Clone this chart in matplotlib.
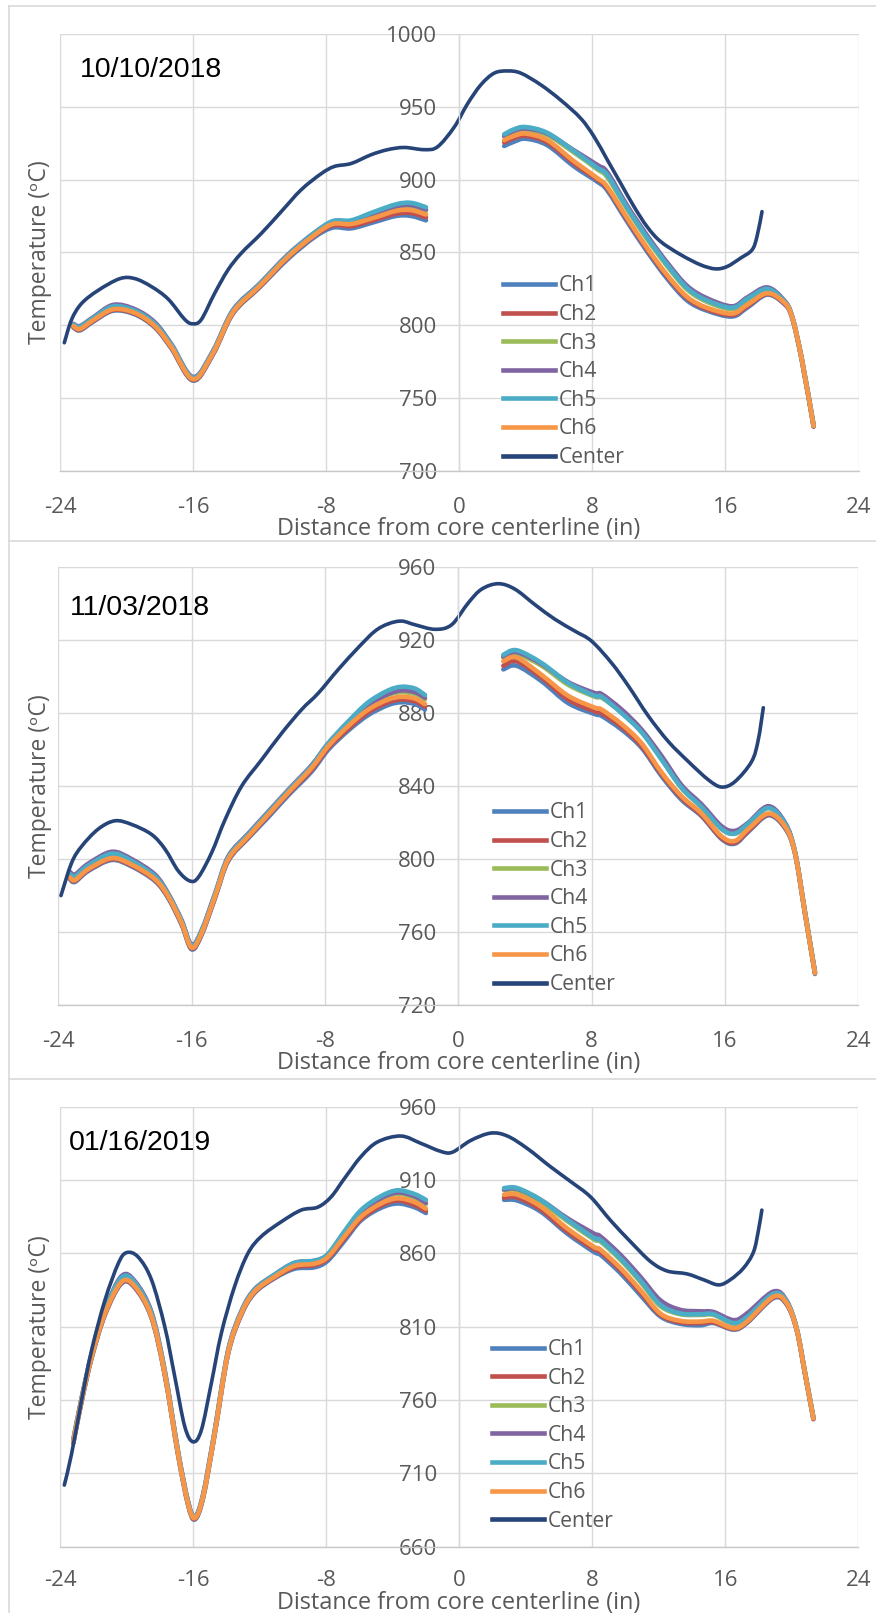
"""Core temperature profiles across three survey dates."""

import matplotlib
matplotlib.use("Agg")

import numpy as np
import matplotlib.pyplot as plt
from matplotlib.path import Path
from matplotlib.patches import PathPatch
from matplotlib.lines import Line2D

plt.rcParams["axes.unicode_minus"] = False

W, H = 876, 1613

CHANNELS = ["Ch1", "Ch2", "Ch3", "Ch4", "Ch5", "Ch6"]
COLORS = {
    "Ch1": "#4F81BD",
    "Ch2": "#C0504D",
    "Ch3": "#9BBB59",
    "Ch4": "#8064A2",
    "Ch5": "#4BACC6",
    "Ch6": "#F79646",
    "Center": "#264478",
}
X_TICKS = [-24, -16, -8, 0, 8, 16, 24]

# ---- 10/10/2018 ----
P1_X_LEFT = [-23.2, -22.8, -22.0, -20.8, -19.5, -18.3, -17.3, -16.0, -14.8, -13.6,
             -12.0, -10.3, -8.7, -7.6, -6.5, -5.2, -3.8, -2.9, -2.0]
P1_LEFT = {
    "Ch1": [798.5, 796.5, 802.5, 810.0, 807.5, 798.5, 784.0, 762.0, 780.0, 808.0,
            826.0, 845.5, 860.5, 867.0, 866.5, 870.5, 875.0, 875.0, 872.0],
    "Ch2": [799.0, 797.0, 803.0, 810.5, 808.0, 799.0, 784.5, 762.5, 780.5, 808.5,
            826.5, 846.5, 861.5, 868.5, 868.0, 872.0, 876.5, 877.0, 874.0],
    "Ch3": [800.0, 798.5, 804.5, 812.0, 809.5, 800.5, 786.0, 763.5, 781.5, 809.5,
            827.5, 847.5, 863.0, 870.5, 871.0, 875.5, 881.0, 881.5, 878.5],
    "Ch4": [801.0, 799.5, 805.5, 814.0, 811.0, 802.0, 787.0, 764.5, 782.5, 810.5,
            828.5, 848.5, 863.5, 871.0, 871.5, 876.0, 881.5, 882.5, 879.5],
    "Ch5": [800.5, 799.0, 805.0, 813.0, 810.0, 801.0, 786.5, 764.0, 782.0, 810.0,
            828.0, 848.0, 863.5, 871.5, 872.0, 877.5, 883.0, 884.0, 881.0],
    "Ch6": [799.5, 797.5, 803.5, 811.0, 808.5, 799.5, 785.0, 763.0, 781.0, 809.0,
            827.0, 847.0, 862.0, 869.5, 869.5, 873.5, 878.5, 879.0, 876.0],
}
P1_X_RIGHT = [2.7, 3.3, 4.0, 5.3, 6.9, 8.3, 8.9, 10.1, 11.3, 12.5,
              13.7, 14.9, 16.4, 17.3, 18.5, 19.5, 20.0, 20.6, 21.3]
P1_RIGHT = {
    "Ch1": [923.0, 926.0, 928.0, 923.5, 909.0, 898.5, 892.5, 871.0, 850.5, 832.0,
            817.0, 810.0, 806.0, 812.0, 821.0, 815.0, 805.5, 775.5, 730.5],
    "Ch2": [925.5, 928.5, 930.0, 925.5, 911.0, 900.0, 894.0, 872.5, 852.0, 833.5,
            818.5, 811.0, 807.0, 813.0, 821.5, 815.5, 805.5, 775.5, 730.5],
    "Ch3": [929.5, 932.5, 934.0, 930.5, 918.5, 907.0, 901.5, 879.5, 859.0, 840.5,
            824.5, 816.0, 811.0, 817.0, 824.0, 816.5, 806.0, 776.0, 731.0],
    "Ch4": [930.0, 933.5, 935.0, 931.5, 920.0, 910.0, 905.0, 882.0, 861.5, 843.0,
            827.0, 818.5, 813.0, 819.0, 826.0, 817.5, 806.5, 776.5, 731.5],
    "Ch5": [931.0, 934.5, 936.0, 932.0, 919.5, 908.0, 903.0, 880.5, 860.0, 841.5,
            825.5, 817.0, 812.0, 818.0, 825.0, 817.0, 806.5, 776.5, 731.5],
    "Ch6": [927.0, 930.0, 931.5, 927.0, 912.5, 901.0, 895.0, 873.5, 853.0, 834.5,
            819.5, 812.0, 808.0, 814.0, 822.0, 816.0, 806.0, 776.0, 731.0],
}
P1_X_CENTER = [-23.74, -23.3, -22.7, -21.7, -20.4, -19.5, -18.5, -17.5, -16.5, -16.0,
               -15.5, -14.7, -13.9, -13.1, -11.9, -10.7, -9.5, -8.3, -7.5, -6.5,
               -5.3, -4.3, -3.3, -2.1, -1.3, -0.3, 0.5, 1.3, 2.1, 2.9,
               3.7, 4.9, 6.1, 7.3, 8.1, 8.9, 9.7, 10.5, 11.3, 12.1,
               13.3, 14.5, 15.4, 16.1, 16.9, 17.6, 17.9, 18.2]
P1_CENTER = [788.0, 804.0, 815.0, 824.0, 832.0, 832.0, 826.5, 818.0, 804.0, 801.0,
             804.0, 822.0, 838.0, 849.5, 863.0, 878.0, 893.0, 904.0, 909.0, 911.0,
             917.0, 920.5, 922.0, 920.5, 922.5, 936.0, 952.0, 965.0, 973.0, 974.5,
             973.0, 965.0, 954.5, 942.0, 929.5, 913.5, 897.5, 881.5, 867.5, 857.5,
             848.5, 841.5, 838.7, 840.3, 846.0, 851.7, 861.0, 878.0]

# ---- 11/03/2018 ----
P2_X_LEFT = [-23.3, -23.0, -22.2, -20.8, -19.6, -18.2, -17.4, -16.6, -16.0, -15.4,
             -14.6, -13.8, -12.6, -11.4, -10.2, -8.8, -7.8, -6.6, -5.4, -4.2,
             -3.4, -2.6, -2.0]
P2_LEFT = {
    "Ch1": [789.0, 787.5, 793.5, 799.5, 796.0, 788.0, 778.5, 764.0, 750.5, 758.5,
            778.5, 799.0, 811.5, 823.0, 835.0, 848.0, 860.0, 870.5, 879.0, 884.5,
            886.0, 885.0, 882.0],
    "Ch2": [789.5, 788.0, 794.0, 800.0, 796.5, 788.5, 779.0, 764.5, 751.0, 759.0,
            779.0, 799.5, 812.0, 824.0, 836.0, 849.0, 861.0, 871.5, 880.5, 886.0,
            887.5, 886.5, 883.5],
    "Ch3": [791.5, 790.0, 796.0, 802.0, 798.5, 790.0, 780.0, 765.5, 752.0, 760.0,
            780.0, 800.5, 813.0, 825.0, 837.0, 851.0, 863.0, 874.5, 884.0, 890.0,
            891.5, 890.5, 887.5],
    "Ch4": [793.0, 791.5, 797.5, 804.0, 800.0, 791.5, 781.0, 766.5, 753.0, 761.0,
            781.0, 801.5, 814.0, 826.0, 838.0, 851.5, 863.5, 875.0, 884.5, 890.5,
            892.5, 891.5, 888.5],
    "Ch5": [792.0, 790.5, 796.5, 803.0, 799.0, 790.5, 780.5, 766.0, 752.5, 760.5,
            780.5, 801.0, 813.5, 825.5, 837.5, 851.0, 863.5, 875.5, 886.0, 892.5,
            894.5, 893.5, 890.0],
    "Ch6": [790.0, 788.5, 794.5, 800.5, 797.0, 789.0, 779.5, 765.0, 751.5, 759.5,
            779.5, 800.0, 812.5, 824.5, 836.5, 850.0, 862.0, 873.0, 882.0, 887.5,
            889.0, 888.0, 885.0],
}
P2_X_RIGHT = [2.7, 3.5, 5.0, 6.6, 8.2, 8.6, 9.8, 11.0, 12.2, 13.4,
              14.6, 15.8, 16.6, 17.4, 18.6, 19.6, 20.2, 20.8, 21.4]
P2_RIGHT = {
    "Ch1": [904.0, 906.0, 897.5, 885.5, 879.5, 878.5, 871.0, 861.0, 845.5, 832.5,
            823.5, 811.0, 808.5, 815.0, 824.0, 817.0, 803.0, 770.0, 737.0],
    "Ch2": [906.0, 908.5, 899.5, 887.5, 881.0, 880.0, 872.5, 862.0, 846.5, 833.5,
            824.0, 811.5, 809.0, 815.5, 824.5, 817.5, 803.5, 770.5, 737.5],
    "Ch3": [910.5, 912.5, 906.0, 895.5, 889.0, 888.5, 880.5, 870.0, 855.0, 839.0,
            828.5, 816.5, 814.0, 819.0, 828.0, 819.5, 804.0, 771.0, 738.0],
    "Ch4": [911.0, 913.5, 907.0, 897.0, 891.0, 890.5, 882.0, 871.0, 856.5, 840.5,
            830.0, 818.0, 815.5, 820.0, 829.0, 820.0, 804.0, 771.0, 738.0],
    "Ch5": [912.0, 914.5, 907.5, 896.5, 889.5, 889.0, 880.0, 869.5, 854.5, 839.0,
            828.5, 816.5, 814.0, 819.5, 828.0, 819.5, 804.0, 771.0, 738.0],
    "Ch6": [908.5, 910.5, 901.0, 889.5, 883.0, 882.0, 874.0, 863.5, 847.5, 834.5,
            825.0, 812.5, 810.0, 816.5, 825.0, 818.0, 803.5, 770.5, 737.5],
}
P2_X_CENTER = [-23.84, -23.2, -22.6, -21.6, -20.6, -19.6, -18.4, -17.6, -16.8, -16.1,
               -15.6, -14.8, -14.0, -13.0, -11.8, -10.6, -9.4, -8.4, -7.2, -6.0,
               -5.0, -4.2, -3.4, -2.6, -1.4, -0.4, 0.6, 1.4, 2.4, 3.4,
               4.6, 5.8, 7.0, 8.0, 9.2, 10.2, 11.4, 12.6, 13.8, 15.0,
               15.8, 16.6, 17.6, 18.0, 18.3]
P2_CENTER = [780.0, 798.0, 807.0, 816.5, 821.0, 819.0, 813.5, 805.5, 793.5, 788.0,
             790.0, 803.5, 821.5, 840.0, 854.5, 869.0, 882.0, 891.0, 904.0, 916.0,
             925.0, 929.0, 930.5, 928.5, 926.0, 928.5, 940.5, 948.0, 951.0, 948.0,
             939.5, 931.5, 925.0, 919.5, 907.5, 895.0, 878.5, 864.5, 853.5, 843.5,
             839.5, 842.5, 853.5, 865.5, 883.0]

# ---- 01/16/2019 ----
P3_X_LEFT = [-23.2, -22.7, -22.1, -21.3, -20.3, -19.5, -18.5, -17.7, -16.9, -16.3,
             -15.9, -15.4, -14.7, -13.9, -13.1, -12.3, -11.1, -9.9, -8.7, -7.9,
             -6.9, -5.9, -4.7, -3.7, -2.7, -2.0]
P3_LEFT = {
    "Ch1": [730.5, 759.0, 788.5, 818.0, 839.5, 836.5, 816.0, 777.0, 722.5, 688.5,
            678.5, 693.0, 736.5, 791.0, 818.0, 833.0, 843.0, 849.5, 850.5, 855.0,
            868.5, 882.5, 891.0, 894.0, 891.5, 887.5],
    "Ch2": [731.0, 759.5, 789.0, 818.5, 840.0, 837.0, 816.5, 777.5, 723.0, 689.0,
            679.0, 693.5, 737.0, 791.5, 818.5, 833.5, 843.5, 850.5, 852.0, 856.5,
            870.0, 883.5, 892.5, 896.0, 893.0, 889.0],
    "Ch3": [732.0, 760.5, 790.5, 820.0, 842.0, 839.0, 818.0, 779.0, 724.0, 690.0,
            680.0, 694.5, 738.0, 792.5, 819.5, 834.5, 845.0, 853.0, 854.5, 859.0,
            873.5, 887.5, 897.0, 900.5, 898.0, 893.5],
    "Ch4": [733.0, 761.5, 791.5, 821.5, 844.5, 841.0, 820.0, 780.0, 725.0, 691.0,
            680.5, 695.5, 739.0, 793.5, 820.5, 835.5, 845.5, 853.5, 855.0, 859.0,
            874.0, 888.0, 897.5, 901.5, 899.0, 894.5],
    "Ch5": [732.5, 761.0, 791.0, 821.0, 843.5, 840.0, 819.0, 779.5, 724.5, 690.5,
            680.0, 695.0, 738.5, 793.0, 820.0, 835.0, 845.5, 853.5, 855.0, 859.5,
            875.0, 889.5, 899.0, 903.0, 900.5, 896.5],
    "Ch6": [731.5, 760.0, 789.5, 819.0, 840.5, 837.5, 817.0, 778.0, 723.5, 689.5,
            679.5, 694.0, 737.5, 792.0, 819.0, 834.0, 844.0, 851.5, 853.0, 857.5,
            871.5, 885.0, 894.0, 897.5, 895.0, 890.5],
}
P3_X_RIGHT = [2.7, 3.5, 4.9, 6.5, 8.1, 8.5, 9.7, 10.9, 12.1, 13.3,
              14.5, 15.3, 16.5, 17.3, 18.9, 19.7, 20.3, 20.8, 21.3]
P3_RIGHT = {
    "Ch1": [896.5, 896.0, 888.5, 873.5, 861.0, 859.0, 846.5, 831.5, 817.0, 812.0,
            811.0, 812.5, 808.0, 812.5, 829.5, 825.0, 807.5, 777.5, 747.0],
    "Ch2": [898.0, 898.0, 890.0, 875.0, 863.0, 861.0, 848.5, 833.5, 818.0, 813.0,
            812.5, 813.0, 808.5, 813.0, 830.0, 825.5, 807.5, 777.5, 747.0],
    "Ch3": [903.0, 903.0, 895.0, 882.0, 869.5, 868.0, 855.5, 840.5, 824.0, 818.5,
            818.0, 818.0, 812.0, 816.0, 832.0, 826.5, 808.5, 778.5, 748.0],
    "Ch4": [903.5, 904.0, 896.5, 884.0, 873.5, 871.5, 859.0, 844.0, 828.0, 821.5,
            820.5, 820.0, 814.5, 819.0, 834.0, 827.5, 808.5, 778.5, 748.0],
    "Ch5": [904.5, 904.5, 896.5, 883.0, 870.5, 869.0, 856.5, 841.5, 825.0, 819.0,
            818.5, 818.5, 812.5, 816.5, 832.5, 827.0, 808.5, 778.5, 748.0],
    "Ch6": [900.0, 900.0, 892.0, 877.0, 864.5, 862.5, 850.0, 835.0, 819.0, 814.0,
            813.5, 814.0, 809.0, 813.5, 830.5, 826.0, 808.0, 778.0, 747.5],
}
P3_X_CENTER = [-23.74, -23.3, -22.7, -22.1, -21.3, -20.5, -20.0, -19.3, -18.5, -17.7,
               -17.1, -16.5, -16.0, -15.5, -14.9, -14.3, -13.5, -12.7, -11.9, -10.7,
               -9.5, -8.5, -7.7, -6.9, -5.9, -4.9, -3.5, -2.3, -1.1, -0.4,
               0.7, 1.9, 2.9, 4.1, 5.5, 6.7, 7.9, 9.1, 10.3, 11.5,
               12.5, 13.7, 14.7, 15.6, 16.3, 17.1, 17.7, 18.0, 18.2]
P3_CENTER = [702.0, 723.5, 760.0, 794.0, 828.0, 853.0, 860.5, 857.5, 842.0, 810.0,
             776.0, 742.0, 731.5, 739.5, 771.5, 805.5, 837.5, 860.0, 871.5, 881.5,
             889.5, 891.5, 898.5, 911.0, 926.0, 936.0, 940.0, 935.0, 929.5, 929.0,
             937.0, 942.0, 940.0, 931.5, 919.0, 909.0, 898.5, 882.5, 868.0, 854.5,
             848.0, 846.0, 842.0, 838.5, 842.0, 850.0, 861.0, 876.0, 889.5]

# layout in pixels: plot box (left, right, top, bottom), date baseline,
# legend (handle left, vertical centre), x-title centre offset below the plot
PANELS = [
    dict(date="10/10/2018", box=(60, 858.5, 33.8, 471.0), ylim=(700, 1000), ystep=50,
         xl=P1_X_LEFT, left=P1_LEFT, xr=P1_X_RIGHT, right=P1_RIGHT,
         xc=P1_X_CENTER, center=P1_CENTER, date_xy=(80, 77.3),
         leg_xy=(503.3, 371.7), xpad=18.5, xlab_dy=58),
    dict(date="11/03/2018", box=(58.3, 858.3, 567.3, 1005.0), ylim=(720, 960), ystep=40,
         xl=P2_X_LEFT, left=P2_LEFT, xr=P2_X_RIGHT, right=P2_RIGHT,
         xc=P2_X_CENTER, center=P2_CENTER, date_xy=(70, 615.0),
         leg_xy=(494.3, 898.7), xpad=18.5, xlab_dy=58),
    dict(date="01/16/2019", box=(60, 858.3, 1106.7, 1546.7), ylim=(660, 960), ystep=50,
         xl=P3_X_LEFT, left=P3_LEFT, xr=P3_X_RIGHT, right=P3_RIGHT,
         xc=P3_X_CENTER, center=P3_CENTER, date_xy=(69, 1150.0),
         leg_xy=(491.7, 1435.3), xpad=17, xlab_dy=56.5),
]

GRID = "#D9D9D9"
TEXT = "#595959"


def fx(px):
    return px / W


def fy(py):
    return 1 - py / H


def smooth_path(x, y):
    """Bezier path through the points, like a spreadsheet 'smoothed line'."""
    pts = np.column_stack([x, y]).astype(float)
    n = len(pts)
    verts = [pts[0]]
    codes = [Path.MOVETO]
    for i in range(n - 1):
        p0 = pts[max(i - 1, 0)]
        p1 = pts[i]
        p2 = pts[i + 1]
        p3 = pts[min(i + 2, n - 1)]
        verts += [p1 + (p2 - p0) / 6, p2 - (p3 - p1) / 6, p2]
        codes += [Path.CURVE4] * 3
    return Path(verts, codes)


def draw_line(ax, x, y, color, lw):
    ax.add_patch(PathPatch(smooth_path(x, y), facecolor="none", edgecolor=color,
                           lw=lw, capstyle="round", joinstyle="round"))


fig = plt.figure(figsize=(W / 100, H / 100), dpi=100)

# chart-area borders
for y0 in (6, 540.7, 1078.7):
    fig.add_artist(Line2D([fx(9), fx(876)], [fy(y0), fy(y0)], color=GRID, lw=1.2))
fig.add_artist(Line2D([fx(9), fx(9)], [fy(6), fy(H)], color=GRID, lw=1.2))

for p in PANELS:
    left, right, top, bottom = p["box"]
    ax = fig.add_axes([fx(left), fy(bottom), (right - left) / W, (bottom - top) / H])
    ax.set_xlim(-24, 24)
    ax.set_ylim(*p["ylim"])
    ax.set_xticks(X_TICKS)
    ax.set_yticks(np.arange(p["ylim"][0], p["ylim"][1] + 1, p["ystep"]))

    for ch in CHANNELS:
        draw_line(ax, p["xl"], p["left"][ch], COLORS[ch], 3.3)
        draw_line(ax, p["xr"], p["right"][ch], COLORS[ch], 3.3)
    draw_line(ax, p["xc"], p["center"], COLORS["Center"], 2.6)

    ax.grid(True, color=GRID, lw=1.0, zorder=0)
    ax.set_axisbelow(True)
    for side in ("top", "right"):
        ax.spines[side].set_visible(False)
    ax.spines["bottom"].set_color("#C8C8C8")
    ax.spines["bottom"].set_linewidth(1.0)
    ax.spines["left"].set_position(("data", 0))
    ax.spines["left"].set_color(GRID)
    ax.spines["left"].set_linewidth(1.0)
    ax.tick_params(axis="both", length=0, labelsize=16, labelcolor=TEXT)
    ax.tick_params(axis="y", pad=16)
    ax.tick_params(axis="x", pad=p["xpad"])
    for lab in ax.get_xticklabels() + ax.get_yticklabels():
        lab.set_family("Open Sans")

    handles = [Line2D([], [], color=COLORS[c], lw=3.3) for c in CHANNELS]
    handles.append(Line2D([], [], color=COLORS["Center"], lw=3.3))
    lx, ly = p["leg_xy"]
    ax.legend(handles, CHANNELS + ["Center"], loc="center left",
              bbox_to_anchor=((lx - left) / (right - left), (bottom - ly) / (bottom - top)),
              frameon=False, borderpad=0, borderaxespad=0, handlelength=2.46,
              handletextpad=0.19, labelspacing=0.36,
              prop={"family": "Open Sans", "size": 15.2}, labelcolor=TEXT)

    dx, dy = p["date_xy"]
    fig.text(fx(dx), fy(dy), p["date"], fontsize=20.5, family="Liberation Sans",
             color="black", ha="left", va="baseline")
    fig.text(fx(40.5), fy((top + bottom) / 2), "Temperature (ᵒC)", rotation=90,
             fontsize=16.5, family=["Open Sans", "DejaVu Sans"], color=TEXT,
             ha="center", va="center")
    fig.text(fx(459), fy(bottom + p["xlab_dy"]), "Distance from core centerline (in)",
             fontsize=16.9, family="Open Sans", color=TEXT, ha="center", va="center")

fig.savefig("out.png", dpi=100, facecolor="white")
